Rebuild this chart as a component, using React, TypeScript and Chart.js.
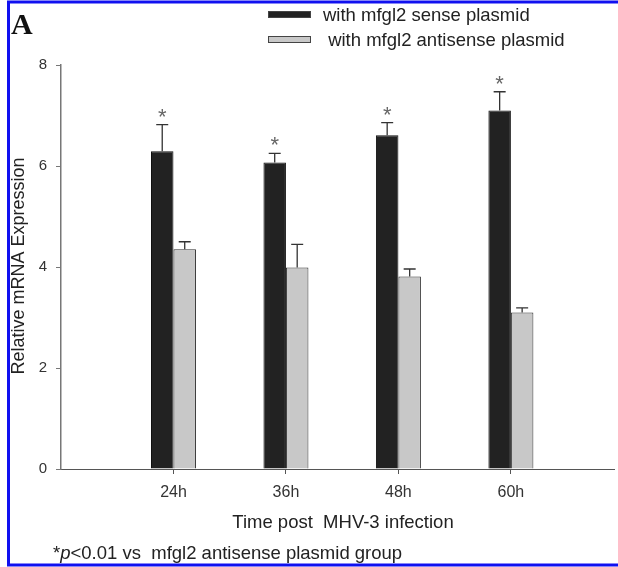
import React, { useEffect, useRef } from 'react';
import { Chart, registerables } from 'chart.js';

Chart.register(...registerables);

// ---- data ----
const timeLabels = ['24h', '36h', '48h', '60h'];
const timePoints = [24, 36, 48, 60];
const senseValues = [6.29, 6.07, 6.61, 7.1];
const senseErrors = [0.53, 0.18, 0.25, 0.37];
const antisenseValues = [4.35, 3.99, 3.81, 3.1];
const antisenseErrors = [0.15, 0.46, 0.15, 0.09];
const senseSignificant = [true, true, true, true];
const yTickValues = [0, 2, 4, 6, 8];
const seriesNames = ['with mfgl2 sense plasmid', ' with mfgl2 antisense plasmid'];
const xTitle = 'Time post  MHV-3 infection';
const yTitle = 'Relative mRNA Expression';
const footnoteParts = ['*', 'p', '<0.01 vs  mfgl2 antisense plasmid group'];
const panelLetter = 'A';

const FAMILY = '"Liberation Sans", Arial, Helvetica, sans-serif';
const SENSE_FILL = '#222222';
const ANTI_FILL = '#c8c8c8';

const errorBarPlugin = {
  id: 'errorBars',
  afterDatasetsDraw(chart: any) {
    const { ctx } = chart;
    const yScale = chart.scales.y;
    const errs = [senseErrors, antisenseErrors];
    const vals = [senseValues, antisenseValues];
    ctx.save();
    ctx.strokeStyle = '#333';
    ctx.lineWidth = 1.3;
    chart.data.datasets.forEach((_: any, di: number) => {
      const meta = chart.getDatasetMeta(di);
      meta.data.forEach((bar: any, i: number) => {
        const top = yScale.getPixelForValue(vals[di][i]);
        const cap = yScale.getPixelForValue(vals[di][i] + errs[di][i]);
        ctx.beginPath();
        ctx.moveTo(bar.x, top);
        ctx.lineTo(bar.x, cap);
        ctx.moveTo(bar.x - 6, cap);
        ctx.lineTo(bar.x + 6, cap);
        ctx.stroke();
        if (di === 0 && senseSignificant[i]) {
          ctx.fillStyle = '#666';
          ctx.font = `22px ${FAMILY}`;
          ctx.textAlign = 'center';
          ctx.textBaseline = 'middle';
          ctx.fillText('*', bar.x, cap - 7);
        }
      });
    });
    ctx.restore();
  },
  afterDraw(chart: any) {
    const { ctx } = chart;
    ctx.save();
    // legend
    const fills = [SENSE_FILL, ANTI_FILL];
    const rows = [14.5, 39.5];
    ctx.font = `18.5px ${FAMILY}`;
    ctx.textBaseline = 'middle';
    ctx.textAlign = 'left';
    seriesNames.forEach((name, i) => {
      ctx.fillStyle = fills[i];
      ctx.strokeStyle = '#444';
      ctx.lineWidth = 1;
      ctx.fillRect(268, rows[i] - 3.5, 43, 7);
      ctx.strokeRect(268.5, rows[i] - 3, 42, 6);
      ctx.fillStyle = '#222';
      ctx.fillText(name, 323, rows[i] + 1);
    });
    // panel letter
    ctx.font = `bold 30px "Liberation Serif", "Times New Roman", serif`;
    ctx.textBaseline = 'alphabetic';
    ctx.fillStyle = '#111';
    ctx.fillText(panelLetter, 11, 34);
    // x title
    ctx.font = `18.5px ${FAMILY}`;
    ctx.fillStyle = '#222';
    ctx.textAlign = 'center';
    ctx.fillText(xTitle, 343, 528);
    // y title
    ctx.save();
    ctx.translate(19, 266);
    ctx.rotate(-Math.PI / 2);
    ctx.textBaseline = 'middle';
    ctx.font = `18px ${FAMILY}`;
    ctx.fillText(yTitle, 0, 0);
    ctx.restore();
    // footnote
    ctx.textAlign = 'left';
    let fx = 53;
    footnoteParts.forEach((part, i) => {
      ctx.font = i === 1 ? `italic 18.5px ${FAMILY}` : `18.5px ${FAMILY}`;
      ctx.fillText(part, fx, 559);
      fx += ctx.measureText(part).width;
    });
    // blue frame
    ctx.strokeStyle = '#1010f0';
    ctx.lineWidth = 3;
    ctx.beginPath();
    ctx.moveTo(chart.width, 2);
    ctx.lineTo(8.5, 2);
    ctx.lineTo(8.5, 565);
    ctx.lineTo(chart.width, 565);
    ctx.stroke();
    ctx.restore();
  },
};

export default function App() {
  const ref = useRef<HTMLCanvasElement>(null);
  useEffect(() => {
    document.body.style.margin = '0';
    const chart = new Chart(ref.current as HTMLCanvasElement, {
      type: 'bar',
      data: {
        datasets: [
          {
            label: seriesNames[0],
            data: timePoints.map((t, i) => ({ x: t, y: senseValues[i] })),
            backgroundColor: SENSE_FILL,
            borderColor: '#111',
            borderWidth: 1,
            categoryPercentage: 0.4,
            barPercentage: 1,
          },
          {
            label: seriesNames[1],
            data: timePoints.map((t, i) => ({ x: t, y: antisenseValues[i] })),
            backgroundColor: ANTI_FILL,
            borderColor: '#333',
            borderWidth: 1,
            categoryPercentage: 0.4,
            barPercentage: 1,
          },
        ],
      } as any,
      options: {
        responsive: false,
        animation: false,
        layout: { padding: { top: 65, right: 4, left: 0, bottom: 0 } },
        plugins: { legend: { display: false }, tooltip: { enabled: false } },
        scales: {
          x: {
            type: 'linear',
            min: 12,
            max: 71,
            offset: false,
            afterBuildTicks: (s: any) => {
              s.ticks = timePoints.map((v) => ({ value: v }));
            },
            afterFit: (s: any) => {
              s.height = 98;
            },
            ticks: {
              autoSkip: false,
              maxRotation: 0,
              padding: 9,
              color: '#333',
              font: { size: 16, family: FAMILY },
              callback: (v: any) => {
                const k = timePoints.indexOf(Number(v));
                return k >= 0 ? timeLabels[k] : '';
              },
            },
            grid: { offset: false, drawOnChartArea: false, drawTicks: true, tickLength: 5, color: '#555' },
            border: { color: '#555', width: 1 },
          },
          y: {
            min: 0,
            max: 8,
            afterBuildTicks: (s: any) => {
              s.ticks = yTickValues.map((v) => ({ value: v }));
            },
            afterFit: (s: any) => {
              s.width = 61;
            },
            ticks: {
              padding: 9,
              color: '#333',
              font: { size: 15, family: FAMILY },
            },
            grid: { drawOnChartArea: false, drawTicks: true, tickLength: 5, color: '#777' },
            border: { color: '#777', width: 1.5 },
          },
        },
      } as any,
      plugins: [errorBarPlugin],
    });
    return () => chart.destroy();
  }, []);
  return <canvas ref={ref} width={618} height={567} style={{ display: 'block' }} />;
}
